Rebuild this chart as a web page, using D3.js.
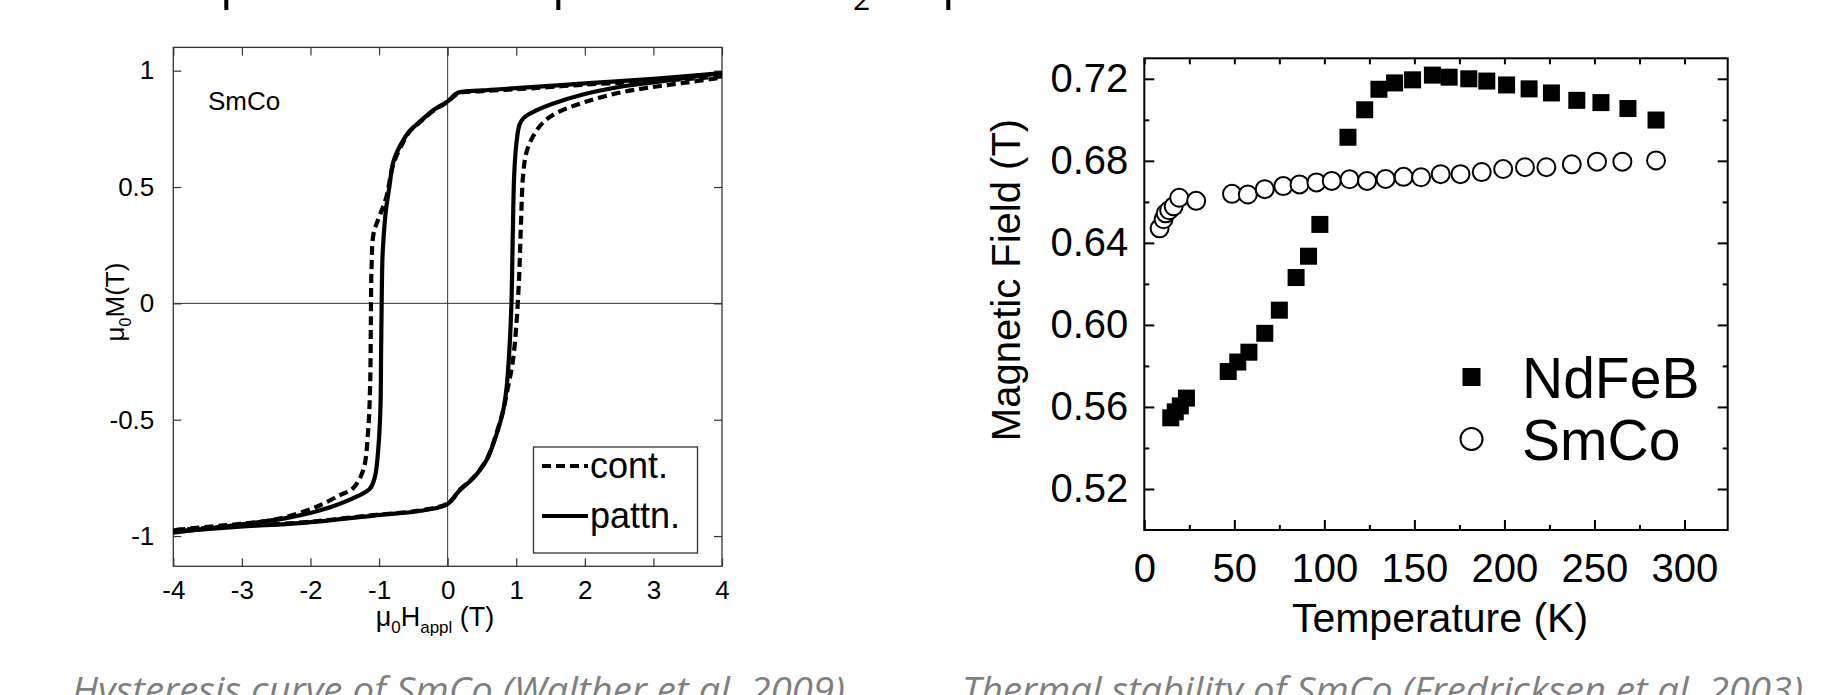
<!DOCTYPE html>
<html>
<head>
<meta charset="utf-8">
<script src="https://cdn.jsdelivr.net/npm/d3@7"></script>
<style>
  body { margin: 0; background: #fff; }
  svg { display: block; }
</style>
</head>
<body>
<script>
// ---- left panel: hysteresis loop (mu0 H in T, mu0 M in T)
const hystTicksX = [-4, -3, -2, -1, 0, 1, 2, 3, 4];
const hystTicksY = [-1, -0.5, 0, 0.5, 1];

// cont. (dashed) - descending branch, +4 -> -4
const contDownH = [4, 3, 2, 1, 0.5, 0.15, 0, -0.2, -0.4, -0.55, -0.67, -0.79, -0.9, -1.0, -1.08, -1.11, -1.12, -1.13, -1.16, -1.23, -1.38, -1.57, -1.91, -2.44, -3.03, -3.5, -4];
const contDownM = [0.975, 0.955, 0.94, 0.92, 0.912, 0.902, 0.865, 0.83, 0.78, 0.74, 0.68, 0.6, 0.45, 0.37, 0.3, 0.15, -0.1, -0.35, -0.55, -0.716, -0.795, -0.824, -0.874, -0.924, -0.948, -0.96, -0.975];
// cont. (dashed) - ascending branch, -4 -> +4
const contUpH = [-4, -3.03, -2.06, -1.08, -0.36, 0, 0.18, 0.37, 0.57, 0.71, 0.81, 0.88, 0.95, 1.0, 1.04, 1.07, 1.1, 1.15, 1.25, 1.4, 1.6, 2, 2.5, 3, 3.5, 4];
const contUpM = [-0.975, -0.957, -0.94, -0.91, -0.888, -0.86, -0.8, -0.75, -0.67, -0.56, -0.46, -0.36, -0.25, -0.1, 0.1, 0.35, 0.55, 0.65, 0.72, 0.78, 0.82, 0.865, 0.905, 0.93, 0.95, 0.97];

// pattn. (solid) - descending branch
const pattnDownH = [4, 3, 2, 1, 0.5, 0.15, 0, -0.2, -0.4, -0.55, -0.67, -0.79, -0.85, -0.9, -0.93, -0.95, -0.96, -0.97, -0.98, -1.01, -1.06, -1.13, -1.33, -1.76, -2.3, -3, -3.5, -4];
const pattnDownM = [0.99, 0.965, 0.945, 0.925, 0.915, 0.905, 0.868, 0.832, 0.782, 0.742, 0.69, 0.61, 0.5, 0.4, 0.3, 0.2, 0.05, -0.2, -0.45, -0.62, -0.745, -0.795, -0.831, -0.881, -0.92, -0.95, -0.968, -0.985];
// pattn. (solid) - ascending branch
const pattnUpH = [-4, -3.03, -2.06, -1.08, -0.36, 0, 0.18, 0.37, 0.57, 0.71, 0.81, 0.86, 0.9, 0.93, 0.95, 0.97, 1.0, 1.05, 1.12, 1.3, 1.5, 2, 2.5, 3, 3.5, 4];
const pattnUpM = [-0.98, -0.96, -0.942, -0.912, -0.89, -0.862, -0.802, -0.752, -0.672, -0.565, -0.46, -0.36, -0.2, 0.0, 0.3, 0.55, 0.68, 0.77, 0.8, 0.83, 0.855, 0.9, 0.93, 0.95, 0.97, 0.99];

// ---- right panel: thermal stability
const tempTicks = [0, 50, 100, 150, 200, 250, 300];
const fieldTicks = [0.52, 0.56, 0.60, 0.64, 0.68, 0.72];

const ndTemp  = [14.7, 17.2, 20, 23.4, 46.6, 51.9, 58.1, 66.9, 75, 84.3, 91.2, 97.5, 113.1, 122.4, 130.3, 139, 149, 160, 169.3, 180.2, 190.2, 201.2, 213.7, 226.1, 240.2, 253.6, 268.6, 284.2];
const ndField = [0.5547, 0.5576, 0.5605, 0.5643, 0.5773, 0.5819, 0.5867, 0.5959, 0.6072, 0.6231, 0.6335, 0.649, 0.6915, 0.7049, 0.7149, 0.718, 0.7195, 0.7218, 0.7208, 0.72, 0.7189, 0.717, 0.7151, 0.7131, 0.7095, 0.7084, 0.7055, 0.6999];

const smTemp  = [8.5, 10.7, 11.9, 13.8, 16.3, 19.4, 28.8, 48.7, 57.5, 66.9, 77.2, 86.2, 95.6, 104.1, 114, 123.7, 134, 144, 153.7, 164.6, 175.6, 187.4, 199.3, 211.4, 223.3, 237.4, 251.4, 265.5, 284.2];
const smField = [0.6471, 0.6515, 0.6544, 0.6559, 0.6578, 0.662, 0.6605, 0.6639, 0.6636, 0.6662, 0.6677, 0.6685, 0.6695, 0.6702, 0.671, 0.6702, 0.6712, 0.6722, 0.672, 0.6735, 0.6735, 0.6745, 0.676, 0.6769, 0.6769, 0.6783, 0.6796, 0.6796, 0.6802];

const W = 1839, H = 695;
const font = "'Liberation Sans', Arial, sans-serif";

const svg = d3.select("body").append("svg")
    .attr("width", W)
    .attr("height", H)
    .style("font-family", font);

// clipped line of slide text above the charts: only the descenders show
const topBits = [["p", 220, -2, 50], ["p", 552, -2, 50], ["2", 853, 10, 30], ["\u03bc", 942, -2, 50]];
svg.selectAll("text.topbit").data(topBits).enter().append("text")
    .attr("class", "topbit")
    .attr("x", d => d[1]).attr("y", d => d[2])
    .attr("font-family", "'Open Sans', sans-serif")
    .attr("font-size", d => d[3])
    .text(d => d[0]);

// ================= left panel =================
const L = { x0: 173.3, x1: 722, y0: 47.4, y1: 566.3 };
const hx = d3.scaleLinear().domain([-4, 4]).range([L.x0, L.x1]);
const hy = d3.scaleLinear().domain([-1.13, 1.1]).range([L.y1, L.y0]);

const gl = svg.append("g");

// zero lines
gl.append("line").attr("x1", hx(0)).attr("x2", hx(0)).attr("y1", L.y0).attr("y2", L.y1)
    .attr("stroke", "#333").attr("stroke-width", 1);
gl.append("line").attr("x1", L.x0).attr("x2", L.x1).attr("y1", hy(0)).attr("y2", hy(0))
    .attr("stroke", "#333").attr("stroke-width", 1);

function styleAxis(sel, col, w) {
    sel.select(".domain").remove();
    sel.selectAll(".tick line").attr("stroke", col).attr("stroke-width", w);
    sel.selectAll(".tick text").attr("fill", "#000");
}

const lb = gl.append("g").attr("transform", "translate(0," + L.y1 + ")")
    .call(d3.axisBottom(hx).tickValues(hystTicksX).tickSize(-8).tickPadding(14).tickFormat(d => String(d)));
const ll = gl.append("g").attr("transform", "translate(" + L.x0 + ",0)")
    .call(d3.axisLeft(hy).tickValues(hystTicksY).tickSize(-8).tickPadding(19).tickFormat(d => String(d)));
const lt = gl.append("g").attr("transform", "translate(0," + L.y0 + ")")
    .call(d3.axisTop(hx).tickValues(hystTicksX).tickSize(-8).tickFormat(""));
const lr = gl.append("g").attr("transform", "translate(" + L.x1 + ",0)")
    .call(d3.axisRight(hy).tickValues(hystTicksY).tickSize(-8).tickFormat(""));
[lb, ll, lt, lr].forEach(a => {
    styleAxis(a, "#333", 1.2);
    a.selectAll("text").attr("font-size", 26).attr("font-family", font);
});

gl.append("rect").attr("x", L.x0).attr("y", L.y0)
    .attr("width", L.x1 - L.x0).attr("height", L.y1 - L.y0)
    .attr("fill", "none").attr("stroke", "#333").attr("stroke-width", 1.3);

const hline = d3.line().x(d => hx(d[0])).y(d => hy(d[1])).curve(d3.curveCatmullRom.alpha(0.5));
const zip = (a, b) => a.map((v, i) => [v, b[i]]);

const branches = [
    { h: contDownH, m: contDownM, dash: "9,5" },
    { h: contUpH, m: contUpM, dash: "9,5" },
    { h: pattnDownH, m: pattnDownM, dash: null },
    { h: pattnUpH, m: pattnUpM, dash: null }
];
gl.selectAll("path.branch").data(branches).enter().append("path")
    .attr("class", "branch")
    .attr("d", d => hline(zip(d.h, d.m)))
    .attr("fill", "none")
    .attr("stroke", "#000")
    .attr("stroke-width", 4.2)
    .attr("stroke-dasharray", d => d.dash);

gl.append("text").attr("x", 208).attr("y", 110).attr("font-size", 26).text("SmCo");

// legend
gl.append("rect").attr("x", 533.5).attr("y", 447).attr("width", 164).attr("height", 106)
    .attr("fill", "#fff").attr("stroke", "#333").attr("stroke-width", 1.3);
const legL = [{ label: "cont.", dash: "9,5", y: 466 }, { label: "pattn.", dash: null, y: 516 }];
legL.forEach(d => {
    gl.append("line").attr("x1", 542).attr("x2", 588).attr("y1", d.y).attr("y2", d.y)
        .attr("stroke", "#000").attr("stroke-width", 4.2).attr("stroke-dasharray", d.dash);
    gl.append("text").attr("x", 590).attr("y", d.y + 12).attr("font-size", 36).text(d.label);
});

// axis labels
const xl = gl.append("text").attr("x", 435).attr("y", 626).attr("font-size", 27).attr("text-anchor", "middle");
xl.append("tspan").text("\u03bc");
xl.append("tspan").attr("font-size", 17).attr("dy", 7).text("0");
xl.append("tspan").attr("dy", -7).text("H");
xl.append("tspan").attr("font-size", 17).attr("dy", 7).text("appl");
xl.append("tspan").attr("dy", -7).text(" (T)");

const yl = gl.append("text").attr("transform", "translate(124,302) rotate(-90)")
    .attr("font-size", 26).attr("text-anchor", "middle");
yl.append("tspan").text("\u03bc");
yl.append("tspan").attr("font-size", 16).attr("dy", 7).text("0");
yl.append("tspan").attr("dy", -7).text("M(T)");

// ================= right panel =================
const R = { x0: 1144.3, x1: 1727.7, y0: 58.3, y1: 530 };
const tx = d3.scaleLinear().domain([0, 324]).range([R.x0, R.x1]);
const ty = d3.scaleLinear().domain([0.50, 0.73]).range([R.y1, R.y0]);

const gr = svg.append("g");
const tempMinor = [25, 75, 125, 175, 225, 275];
const fieldMinor = [0.54, 0.58, 0.62, 0.66, 0.70];

const rb = gr.append("g").attr("transform", "translate(0," + R.y1 + ")")
    .call(d3.axisBottom(tx).tickValues(tempTicks).tickSize(-10).tickPadding(24).tickFormat(d3.format("d")));
const rbm = gr.append("g").attr("transform", "translate(0," + R.y1 + ")")
    .call(d3.axisBottom(tx).tickValues(tempMinor).tickSize(-5).tickFormat(""));
const rt = gr.append("g").attr("transform", "translate(0," + R.y0 + ")")
    .call(d3.axisTop(tx).tickValues(tempTicks.concat(tempMinor)).tickSize(-6).tickFormat(""));
const rl = gr.append("g").attr("transform", "translate(" + R.x0 + ",0)")
    .call(d3.axisLeft(ty).tickValues(fieldTicks).tickSize(-10).tickPadding(16).tickFormat(d3.format(".2f")));
const rlm = gr.append("g").attr("transform", "translate(" + R.x0 + ",0)")
    .call(d3.axisLeft(ty).tickValues(fieldMinor).tickSize(-5).tickFormat(""));
const rr = gr.append("g").attr("transform", "translate(" + R.x1 + ",0)")
    .call(d3.axisRight(ty).tickValues(fieldTicks).tickSize(-10).tickFormat(""));
const rrm = gr.append("g").attr("transform", "translate(" + R.x1 + ",0)")
    .call(d3.axisRight(ty).tickValues(fieldMinor).tickSize(-5).tickFormat(""));
[rb, rbm, rt, rl, rlm, rr, rrm].forEach(a => {
    styleAxis(a, "#000", 2);
    a.selectAll("text").attr("font-size", 40).attr("font-family", font);
});

gr.append("rect").attr("x", R.x0).attr("y", R.y0)
    .attr("width", R.x1 - R.x0).attr("height", R.y1 - R.y0)
    .attr("fill", "none").attr("stroke", "#000").attr("stroke-width", 2);

// SmCo circles
gr.selectAll("circle.sm").data(zip(smTemp, smField)).enter().append("circle")
    .attr("class", "sm")
    .attr("cx", d => tx(d[0])).attr("cy", d => ty(d[1])).attr("r", 9)
    .attr("fill", "#fff").attr("stroke", "#000").attr("stroke-width", 2);

// NdFeB squares
const sq = 17;
gr.selectAll("rect.nd").data(zip(ndTemp, ndField)).enter().append("rect")
    .attr("class", "nd")
    .attr("x", d => tx(d[0]) - sq / 2).attr("y", d => ty(d[1]) - sq / 2)
    .attr("width", sq).attr("height", sq)
    .attr("fill", "#000");

// legend
gr.append("rect").attr("x", 1471.5 - 9).attr("y", 377 - 9).attr("width", 18).attr("height", 18).attr("fill", "#000");
gr.append("circle").attr("cx", 1471.5).attr("cy", 439).attr("r", 11)
    .attr("fill", "#fff").attr("stroke", "#000").attr("stroke-width", 2);
gr.append("text").attr("x", 1522).attr("y", 398).attr("font-size", 57).text("NdFeB");
gr.append("text").attr("x", 1522).attr("y", 460).attr("font-size", 57).text("SmCo");

gr.append("text").attr("x", 1440).attr("y", 632).attr("font-size", 41)
    .attr("text-anchor", "middle").text("Temperature (K)");
gr.append("text").attr("transform", "translate(1020,280) rotate(-90)")
    .attr("font-size", 40).attr("text-anchor", "middle").text("Magnetic Field (T)");

// ================= captions =================
const captions = [
    { text: "Hysteresis curve of SmCo (Walther et al. 2009)", x: 72, w: 773 },
    { text: "Thermal stability of SmCo (Fredricksen et al. 2003)", x: 962, w: 841 }
];
svg.selectAll("text.cap").data(captions).enter().append("text")
    .attr("class", "cap")
    .attr("x", d => d.x).attr("y", 703)
    .attr("font-family", "'Open Sans', sans-serif")
    .attr("font-style", "italic")
    .attr("font-size", 36)
    .attr("fill", "#7f7f7f")
    .attr("textLength", d => d.w)
    .attr("lengthAdjust", "spacingAndGlyphs")
    .text(d => d.text);
</script>
</body>
</html>
